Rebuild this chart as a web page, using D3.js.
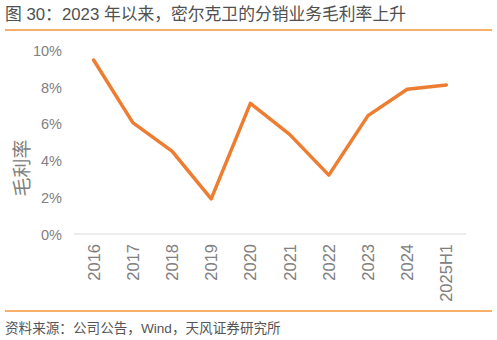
<!DOCTYPE html>
<html>
<head>
<meta charset="utf-8">
<script src="https://cdn.jsdelivr.net/npm/d3@7"></script>
<style>
  body { margin: 0; background: #fff; }
  svg text { font-family: "Liberation Sans", "Noto Sans CJK SC", sans-serif; }
</style>
</head>
<body>
<div id="chart"></div>
<script>
// chart data
const categories = ["2016", "2017", "2018", "2019", "2020", "2021", "2022", "2023", "2024", "2025H1"];
const margin = [9.48, 6.07, 4.52, 1.91, 7.12, 5.43, 3.21, 6.45, 7.89, 8.12];
const yTicks = [0, 2, 4, 6, 8, 10];

const width = 497, height = 340;
const plot = { left: 74, right: 466, top: 50.5, bottom: 234 };

let svg = d3.select("#chart")
    .append("svg")
    .attr("width", width)
    .attr("height", height);

// title + rules
svg.append("text")
    .attr("x", 5)
    .attr("y", 19.5)
    .attr("font-size", 16.8)
    .attr("fill", "#505050")
    .text("图 30：2023 年以来，密尔克卫的分销业务毛利率上升");

svg.append("line")
    .attr("x1", 5).attr("x2", 492)
    .attr("y1", 30).attr("y2", 30)
    .attr("stroke", "#f7963c").attr("stroke-width", 1.5);

svg.append("line")
    .attr("x1", 5).attr("x2", 492)
    .attr("y1", 311).attr("y2", 311)
    .attr("stroke", "#f7963c").attr("stroke-width", 1.5);

svg.append("text")
    .attr("x", 5)
    .attr("y", 333)
    .attr("font-size", 13.6)
    .attr("fill", "#555")
    .text("资料来源：公司公告，Wind，天风证券研究所");

// scales
let x = d3.scaleBand().domain(categories).range([plot.left, plot.right]);
let y = d3.scaleLinear().domain([0, 10]).range([plot.bottom, plot.top]);

// y axis labels
svg.append("g")
    .selectAll()
    .data(yTicks).enter()
    .append("text")
    .attr("x", 62)
    .attr("y", d => y(d) + 5.5)
    .attr("text-anchor", "end")
    .attr("font-size", 14.5)
    .attr("fill", "#808080")
    .text(d => d + "%");

svg.append("text")
    .attr("transform", `translate(29,168) rotate(-90)`)
    .attr("text-anchor", "middle")
    .attr("font-size", 19)
    .attr("fill", "#808080")
    .text("毛利率");

// x axis
svg.append("line")
    .attr("x1", plot.left).attr("x2", plot.right)
    .attr("y1", plot.bottom).attr("y2", plot.bottom)
    .attr("stroke", "#d9d9d9").attr("stroke-width", 1);

svg.append("g")
    .selectAll()
    .data(categories).enter()
    .append("text")
    .attr("transform", d => `translate(${x(d) + x.bandwidth() / 2 + 6},${plot.bottom + 10}) rotate(-90)`)
    .attr("text-anchor", "end")
    .attr("font-size", 16.5)
    .attr("fill", "#808080")
    .text(d => d);

// line
let line = d3.line()
    .x((d, i) => x(categories[i]) + x.bandwidth() / 2)
    .y(d => y(d));

svg.append("path")
    .datum(margin)
    .attr("d", line)
    .attr("fill", "none")
    .attr("stroke", "#ed7d31")
    .attr("stroke-width", 3.5)
    .attr("stroke-linejoin", "round")
    .attr("stroke-linecap", "round");
</script>
</body>
</html>
